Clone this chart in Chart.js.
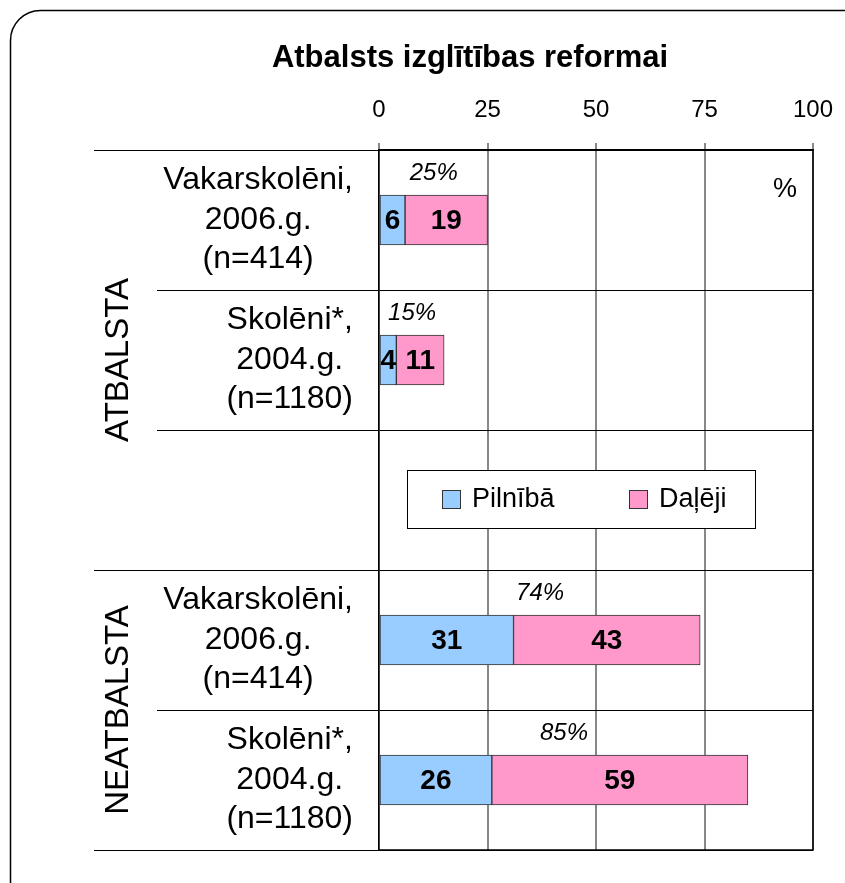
<!DOCTYPE html>
<html>
<head>
<meta charset="utf-8">
<script src="https://cdn.jsdelivr.net/npm/chart.js@4.4.1/dist/chart.umd.min.js"></script>
<style>
  html, body { margin: 0; background: #fff; }
  canvas { display: block; }
</style>
</head>
<body>
<canvas id="chart" width="845" height="883"></canvas>
<script>
// Chart data
const title = 'Atbalsts izglītības reformai';
const categories = [
  ['Vakarskolēni,', '2006.g.', '(n=414)'],
  ['Skolēni*,', '2004.g.', '(n=1180)'],
  [],
  ['Vakarskolēni,', '2006.g.', '(n=414)'],
  ['Skolēni*,', '2004.g.', '(n=1180)']
];
const seriesNames = ['Pilnībā', 'Daļēji'];
const fully = [6, 4, null, 31, 26];
const partly = [19, 11, null, 43, 59];
const totalLabels = ['25%', '15%', '', '74%', '85%'];
const xTicks = [0, 25, 50, 75, 100];
const groupNames = ['ATBALSTA', 'NEATBALSTA'];
const groupRows = [[0, 2], [3, 4]];

const FONT = '"Liberation Sans", Arial, sans-serif';
const BLUE = '#99ccff';
const PINK = '#ff99cc';

/**
 * Extra drawing: frame, title, row labels, group labels, value labels, legend
 */
const decor = {
  id: 'decor',
  beforeDraw(chart) {
    const ctx = chart.ctx;
    ctx.save();
    ctx.fillStyle = '#fff';
    ctx.fillRect(0, 0, chart.width, chart.height);
    ctx.strokeStyle = '#000';
    ctx.lineWidth = 1.5;
    ctx.beginPath();
    ctx.roundRect(10.5, 10.5, 880, 900, 30);
    ctx.stroke();

    // title
    ctx.fillStyle = '#000';
    ctx.font = 'bold 31px ' + FONT;
    ctx.textAlign = 'center';
    ctx.textBaseline = 'middle';
    ctx.fillText(title, 470, 58);
    ctx.restore();
  },
  afterDraw(chart) {
    const ctx = chart.ctx;
    const area = chart.chartArea;
    const y = chart.scales.y;
    const n = categories.length;
    ctx.save();

    // row separators extending left of the plot
    const groupEdges = new Set([-0.5]);
    groupRows.forEach(g => groupEdges.add(g[1] + 0.5));
    ctx.strokeStyle = '#000';
    ctx.lineWidth = 1;
    for (let i = 0; i <= n; i++) {
      const v = i - 0.5;
      const py = Math.round(y.getPixelForValue(v)) + 0.5;
      const x0 = groupEdges.has(v) ? 94 : 157;
      ctx.beginPath();
      ctx.moveTo(x0, py);
      ctx.lineTo(area.left, py);
      ctx.stroke();
    }

    // plot frame
    ctx.lineWidth = 1.5;
    ctx.beginPath();
    ctx.moveTo(area.left, area.top);
    ctx.lineTo(area.right, area.top);
    ctx.lineTo(area.right, area.bottom);
    ctx.lineTo(area.left, area.bottom);
    ctx.stroke();

    // category labels (each block centred, right aligned)
    ctx.fillStyle = '#000';
    ctx.font = '32px ' + FONT;
    ctx.textAlign = 'center';
    ctx.textBaseline = 'middle';
    categories.forEach((lines, i) => {
      if (!lines.length) return;
      const cy = y.getPixelForValue(i);
      const w = Math.max(...lines.map(l => ctx.measureText(l).width));
      const cx = area.left - 26 - w / 2;
      lines.forEach((l, j) => {
        ctx.fillText(l, cx, cy + (j - (lines.length - 1) / 2) * 39.5);
      });
    });

    // group labels, rotated
    ctx.font = '33px ' + FONT;
    groupNames.forEach((name, g) => {
      const top = y.getPixelForValue(groupRows[g][0] - 0.5);
      const bottom = y.getPixelForValue(groupRows[g][1] + 0.5);
      ctx.save();
      ctx.translate(119, (top + bottom) / 2);
      ctx.rotate(-Math.PI / 2);
      ctx.fillText(name, 0, 0);
      ctx.restore();
    });

    // unit sign
    ctx.font = '27px ' + FONT;
    ctx.textAlign = 'right';
    ctx.fillText('%', area.right - 16, area.top + 40);

    // legend box in the empty row
    const ly = y.getPixelForValue(2);
    const lx = area.left + 28;
    ctx.fillStyle = '#fff';
    ctx.fillRect(lx, ly - 30, 348, 58);
    ctx.strokeStyle = '#000';
    ctx.lineWidth = 1;
    ctx.strokeRect(lx + 0.5, ly - 29.5, 348, 58);
    const itemX = [lx + 35, lx + 222];
    ctx.font = '27px ' + FONT;
    ctx.textAlign = 'left';
    chart.data.datasets.forEach((ds, k) => {
      ctx.fillStyle = ds.backgroundColor;
      ctx.fillRect(itemX[k], ly - 10, 18, 18);
      ctx.strokeStyle = '#333';
      ctx.strokeRect(itemX[k] + 0.5, ly - 9.5, 18, 18);
      ctx.fillStyle = '#000';
      ctx.fillText(ds.label, itemX[k] + 30, ly);
    });
    ctx.restore();
  },
  afterDatasetsDraw(chart) {
    const ctx = chart.ctx;
    const metas = chart.data.datasets.map((d, k) => chart.getDatasetMeta(k));
    ctx.save();
    ctx.fillStyle = '#000';
    ctx.textAlign = 'center';
    ctx.textBaseline = 'middle';

    // segment values
    ctx.font = 'bold 28px ' + FONT;
    metas.forEach((meta, k) => {
      meta.data.forEach((bar, i) => {
        const v = chart.data.datasets[k].data[i];
        if (v == null) return;
        ctx.fillText(String(v), (bar.x + bar.base) / 2, bar.y + 1);
      });
    });

    // totals above bars
    ctx.font = 'italic 24px ' + FONT;
    totalLabels.forEach((t, i) => {
      if (!t) return;
      const first = metas[0].data[i];
      const last = metas[metas.length - 1].data[i];
      ctx.fillText(t, (first.base + last.x) / 2, first.y - first.height / 2 - 22);
    });
    ctx.restore();
  }
};

new Chart(document.getElementById('chart'), {
  type: 'bar',
  data: {
    labels: categories.map(c => c.join(' ')),
    datasets: [
      { label: seriesNames[0], data: fully, backgroundColor: BLUE },
      { label: seriesNames[1], data: partly, backgroundColor: PINK }
    ]
  },
  options: {
    indexAxis: 'y',
    responsive: false,
    animation: false,
    devicePixelRatio: 1,
    layout: { padding: { top: 75, right: 32, bottom: 33, left: 0 } },
    datasets: {
      bar: { barThickness: 50, borderColor: '#333', borderWidth: 1, borderSkipped: false }
    },
    plugins: {
      legend: { display: false },
      tooltip: { enabled: false },
      title: { display: false }
    },
    scales: {
      x: {
        position: 'top',
        stacked: true,
        min: 0,
        max: 100,
        afterBuildTicks: scale => { scale.ticks = xTicks.map(v => ({ value: v })); },
        afterFit: scale => {
          scale.height = 75;
          scale.paddingLeft = 0;
          scale.paddingRight = 0;
        },
        ticks: { color: '#000', padding: 18, font: { family: FONT, size: 24 } },
        grid: { color: '#888', lineWidth: 2, tickLength: 7 },
        border: { color: '#000', width: 1.5 }
      },
      y: {
        stacked: true,
        afterFit: scale => { scale.width = 379; },
        ticks: { display: false },
        grid: { color: '#000', lineWidth: 1, drawTicks: false, offset: true },
        border: { color: '#000', width: 1.5 }
      }
    }
  },
  plugins: [decor]
});
</script>
</body>
</html>
